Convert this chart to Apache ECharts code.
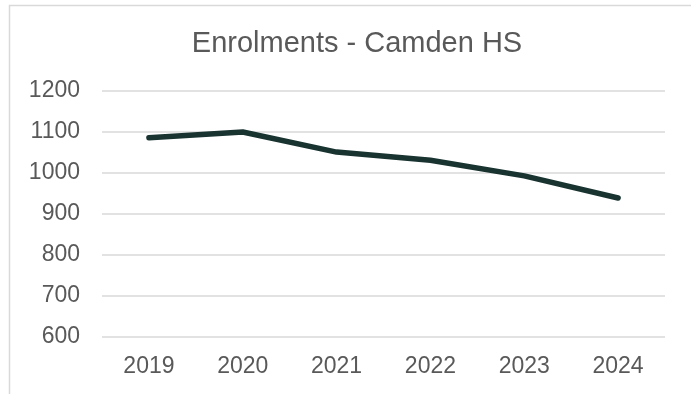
<!DOCTYPE html>
<html>
<head>
<meta charset="utf-8">
<script src="https://cdn.jsdelivr.net/npm/echarts@6/dist/echarts.min.js"></script>
<style>html,body{margin:0;padding:0;background:#fff;}#c{width:691px;height:394px;}</style>
</head>
<body>
<div id="c"></div>
<script>
const titleText = 'Enrolments - Camden HS';
const categories = ['2019', '2020', '2021', '2022', '2023', '2024'];
const enrolments = [1086, 1100, 1051, 1031, 993, 939];
const yMin = 600, yMax = 1200, yStep = 100;

const chart = echarts.init(document.getElementById('c'), null, {renderer: 'canvas'});
chart.setOption({
  backgroundColor: '#ffffff',
  animation: false,
  graphic: [{
    type: 'rect', shape: {x: 9.5, y: 5.5, width: 720, height: 420},
    style: {fill: 'none', stroke: '#d9d9d9', lineWidth: 1.5}, silent: true
  }],
  title: {
    text: titleText, left: 352, top: 24, textAlign: 'center',
    textStyle: {fontFamily: 'Liberation Sans, Arial, sans-serif', fontSize: 29, fontWeight: 'normal', color: '#595959'}
  },
  grid: {left: 102, right: 26, top: 91, bottom: 57, containLabel: false},
  xAxis: {
    type: 'category', data: categories, boundaryGap: true,
    axisLine: {show: false}, axisTick: {show: false},
    axisLabel: {margin: 18, fontFamily: 'Liberation Sans, Arial, sans-serif', fontSize: 23, color: '#595959'}
  },
  yAxis: {
    type: 'value', min: yMin, max: yMax, interval: yStep,
    axisLine: {show: false}, axisTick: {show: false},
    axisLabel: {margin: 22, fontFamily: 'Liberation Sans, Arial, sans-serif', fontSize: 23, color: '#595959',
      formatter: function (v) { return String(v); }},
    splitLine: {lineStyle: {color: '#d9d9d9', width: 1.5}}
  },
  series: [{
    type: 'line', data: enrolments, symbol: 'none',
    lineStyle: {color: '#183330', width: 5.5, cap: 'round', join: 'round'}
  }]
});
</script>
</body>
</html>
